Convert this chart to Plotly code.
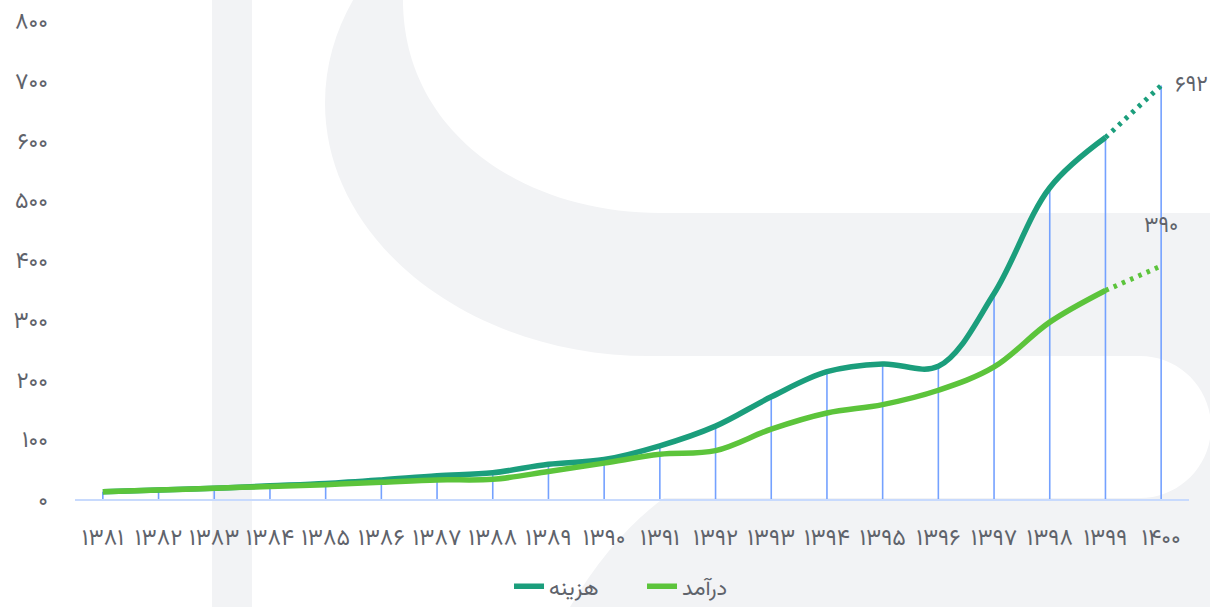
import plotly.graph_objects as go

# ---------------- data ----------------
years = [1381, 1382, 1383, 1384, 1385, 1386, 1387, 1388, 1389, 1390,
         1391, 1392, 1393, 1394, 1395, 1396, 1397, 1398, 1399, 1400]
year_labels = ['۱۳۸۱', '۱۳۸۲', '۱۳۸۳', '۱۳۸۴', '۱۳۸۵', '۱۳۸۶', '۱۳۸۷', '۱۳۸۸', '۱۳۸۹', '۱۳۹۰',
               '۱۳۹۱', '۱۳۹۲', '۱۳۹۳', '۱۳۹۴', '۱۳۹۵', '۱۳۹۶', '۱۳۹۷', '۱۳۹۸', '۱۳۹۹', '۱۴۰۰']
hazine = [12, 15, 18, 22, 26, 32, 39, 44, 58, 66, 89, 122, 171, 213, 226, 222, 344, 521, 605, 692]
daramad = [12, 15, 18, 21, 24, 28, 32, 33, 46, 60, 75, 81, 117, 144, 158, 182, 221, 296, 349, 390]
y_ticks = [0, 100, 200, 300, 400, 500, 600, 700, 800]
y_tick_labels = ['۰', '۱۰۰', '۲۰۰', '۳۰۰', '۴۰۰', '۵۰۰', '۶۰۰', '۷۰۰', '۸۰۰']
name_hazine = 'هزینه'
name_daramad = 'درآمد'

FA = str.maketrans('0123456789', '۰۱۲۳۴۵۶۷۸۹')


def fa(n):
    return str(n).translate(FA)


DARK = '#1b9e7c'
LIGHT = '#5cc43b'
DROP = '#74a1ff'
TEXT = '#5f636b'
WM = '#f2f3f5'
FONT = 'Vazirmatn, DejaVu Sans, sans-serif'

W, H = 1210, 607
ML, MR, MT, MB = 75, 21, 21, 108
PW, PH = W - ML - MR, H - MT - MB

fig = go.Figure()

# drop lines from axis to the upper series
dx, dy = [], []
for x, a, b in zip(years, hazine, daramad):
    dx += [x, x, None]
    dy += [0, max(a, b), None]
fig.add_trace(go.Scatter(x=dx, y=dy, mode='lines', line=dict(color=DROP, width=1.6),
                         showlegend=False, hoverinfo='skip'))

# solid parts (until 1399)
fig.add_trace(go.Scatter(x=years[:-1], y=hazine[:-1], mode='lines', name=name_hazine,
                         line=dict(color=DARK, width=5.5, shape='spline', smoothing=1)))
fig.add_trace(go.Scatter(x=years[:-1], y=daramad[:-1], mode='lines', name=name_daramad,
                         line=dict(color=LIGHT, width=5.5, shape='spline', smoothing=1)))
# projected (dotted) parts
fig.add_trace(go.Scatter(x=years[-2:], y=hazine[-2:], mode='lines', showlegend=False,
                         line=dict(color=DARK, width=5, dash='3.5px,5.5px')))
fig.add_trace(go.Scatter(x=years[-2:], y=daramad[-2:], mode='lines', showlegend=False,
                         line=dict(color=LIGHT, width=5, dash='3.5px,5.5px')))

# end labels
fig.add_annotation(x=years[-1], y=hazine[-1], text=fa(hazine[-1]), showarrow=False,
                   xanchor='left', yanchor='middle', xshift=12,
                   font=dict(family=FONT, size=22, color=TEXT))
fig.add_annotation(x=years[-1], y=daramad[-1], text=fa(daramad[-1]), showarrow=False,
                   xanchor='center', yanchor='middle', yshift=39,
                   font=dict(family=FONT, size=22, color=TEXT))


# ---------------- watermark (pixel -> paper) ----------------
def P(x, y):
    return f'{(x - ML) / PW:.5f},{(H - MB - y) / PH:.5f}'


def path(cmds):
    out = []
    for c in cmds:
        if c[0] == 'Z':
            out.append('Z')
        else:
            pts = c[1:]
            out.append(c[0] + ' ' + ' '.join(P(pts[i], pts[i + 1]) for i in range(0, len(pts), 2)))
    return ' '.join(out)


wm_paths = [
    # vertical stripe
    [('M', 212, -20), ('L', 252, -20), ('L', 252, 640), ('L', 212, 640), ('Z',)],
    # outer band
    [('M', 650, -150), ('C', 470.5, -150, 325, -36.7, 325, 103), ('C', 325, 242.7, 470.5, 356, 650, 356),
     ('L', 1260, 356), ('L', 1260, -150), ('Z',)],
    # lower right shape
    [('M', 552, 640), ('Q', 600, 545, 664, 498), ('L', 1140, 498),
     ('C', 1179.2, 498, 1211, 466.2, 1211, 427), ('C', 1211, 387.8, 1179.2, 356, 1140, 356),
     ('L', 1260, 356), ('L', 1260, 640), ('Z',)],
]
shapes = []
for pth in wm_paths:
    shapes.append(dict(type='path', xref='paper', yref='paper', layer='below',
                       path=path(pth), fillcolor=WM, line=dict(width=0)))
# inner white cut
shapes.append(dict(type='path', xref='paper', yref='paper', layer='below',
                   path=path([('M', 403, -20), ('L', 403, 0), ('C', 403, 130, 520, 213, 660, 213),
                              ('L', 1260, 213), ('L', 1260, -20), ('Z',)]),
                   fillcolor='#ffffff', line=dict(width=0)))

fig.update_layout(
    width=W, height=H,
    margin=dict(l=ML, r=MR, t=MT, b=MB, autoexpand=False),
    paper_bgcolor='#ffffff', plot_bgcolor='rgba(0,0,0,0)',
    font=dict(family=FONT, color=TEXT),
    shapes=shapes,
    showlegend=True,
    legend=dict(orientation='h', x=0.3896, xanchor='left', y=-0.183, yanchor='middle',
                entrywidth=88, entrywidthmode='pixels',
                font=dict(family=FONT, size=22, color=TEXT), bgcolor='rgba(0,0,0,0)'),
    xaxis=dict(range=[1380.5, 1400.5], tickmode='array', tickvals=years, ticktext=year_labels,
               showgrid=False, zeroline=False, showline=True, linecolor='#c8dafd', linewidth=2,
               automargin=False,
               ticks='', tickfont=dict(family=FONT, size=23, color=TEXT), ticklabelstandoff=16),
    yaxis=dict(range=[0, 800], tickmode='array', tickvals=y_ticks, ticktext=y_tick_labels,
               showgrid=False, zeroline=False, showline=False, ticks='', automargin=False,
               tickfont=dict(family=FONT, size=23, color=TEXT), ticklabelstandoff=26),
)

post = ("document.documentElement.style.margin='0';document.body.style.margin='0';"
        "document.body.style.overflow='hidden';document.documentElement.style.overflow='hidden';")

fig.write_html('out.html', post_script=post, config={'displayModeBar': False})
